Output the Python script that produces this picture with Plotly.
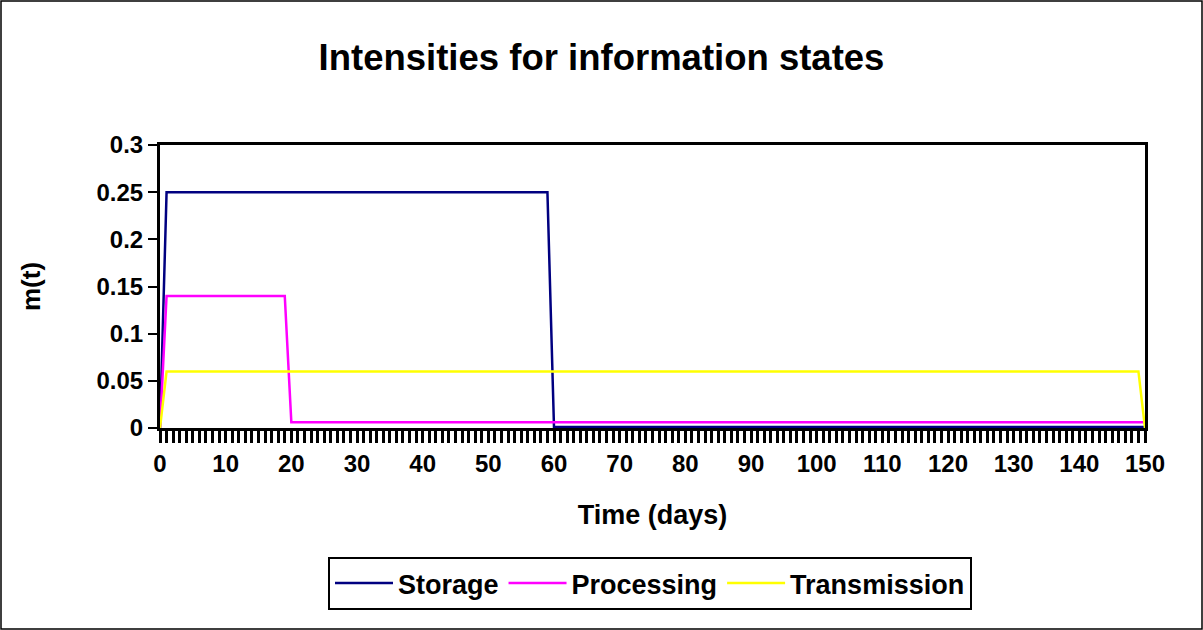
import plotly.graph_objects as go

# Daily intensities m(t) for the three information states, days 0..150
days = list(range(151))
storage = [0.0] + [0.25] * 59 + [0.001] * 91          # days 1-59 at 0.25, then near zero
processing = [0.0] + [0.14] * 19 + [0.006] * 131      # days 1-19 at 0.14, then 0.006
transmission = [0.0] + [0.06] * 149 + [0.0]           # days 1-149 at 0.06

series = [
    ("Storage", storage, "#000080"),
    ("Processing", processing, "#FF00FF"),
    ("Transmission", transmission, "#FFFF00"),
]

x_ticks = list(range(0, 151, 10))
y_ticks = [0, 0.05, 0.1, 0.15, 0.2, 0.25, 0.3]

FONT = "Liberation Sans, Arial, sans-serif"

fig = go.Figure()
for name, vals, color in series:
    fig.add_trace(go.Scatter(
        x=days, y=vals, mode="lines", name=name,
        line=dict(color=color, width=2.5),
    ))

W, H = 1203, 630
ML, MR, MT, MB = 160, 58, 145, 202
pw, ph = W - ML - MR, H - MT - MB

fig.update_layout(
    width=W, height=H,
    margin=dict(l=ML, r=MR, t=MT, b=MB),
    paper_bgcolor="white", plot_bgcolor="white",
    font=dict(family=FONT, color="black", size=24, weight="bold"),
    title=dict(
        text="Intensities for information states",
        x=0.5, xanchor="center", y=1 - 57 / H, yanchor="middle",
        font=dict(size=36.5, family=FONT, weight="bold"),
    ),
    showlegend=True,
    legend=dict(
        orientation="h", x=(650 - ML) / pw, xanchor="center",
        y=-(557 - (MT + ph)) / ph, yanchor="top",
        bordercolor="black", borderwidth=2, bgcolor="white",
        font=dict(size=27, family=FONT, weight="bold"),
        itemwidth=58,
    ),
    xaxis=dict(
        range=[0, 150], tickvals=x_ticks, ticktext=[str(v) for v in x_ticks],
        ticks="outside", ticklen=12, tickwidth=2.5, tickcolor="black",
        minor=dict(dtick=1, ticks="outside", ticklen=12, tickwidth=2.5, tickcolor="black"),
        showline=True, linecolor="black", linewidth=3, mirror=True,
        showgrid=False, zeroline=False,
        title=dict(text="Time (days)", font=dict(size=27, weight="bold"), standoff=30),
        tickfont=dict(size=24, weight="bold"),
    ),
    yaxis=dict(
        range=[0, 0.3], tickvals=y_ticks, ticktext=["0", "0.05", "0.1", "0.15", "0.2", "0.25", "0.3"],
        ticks="outside", ticklen=9, tickwidth=2, tickcolor="black",
        showline=True, linecolor="black", linewidth=3, mirror=True,
        showgrid=False, zeroline=False,
        title=dict(text="m(t)", font=dict(size=26, weight="bold"), standoff=49),
        tickfont=dict(size=24, weight="bold"),
    ),
    shapes=[dict(
        type="rect", xref="paper", yref="paper",
        x0=-(ML - 1) / pw, x1=1 + (MR - 1) / pw,
        y0=-(MB - 1) / ph, y1=1 + (MT - 1) / ph,
        line=dict(color="black", width=1.5), fillcolor="rgba(0,0,0,0)",
        layer="below",
    )],
)

fig.write_html("out.html")
